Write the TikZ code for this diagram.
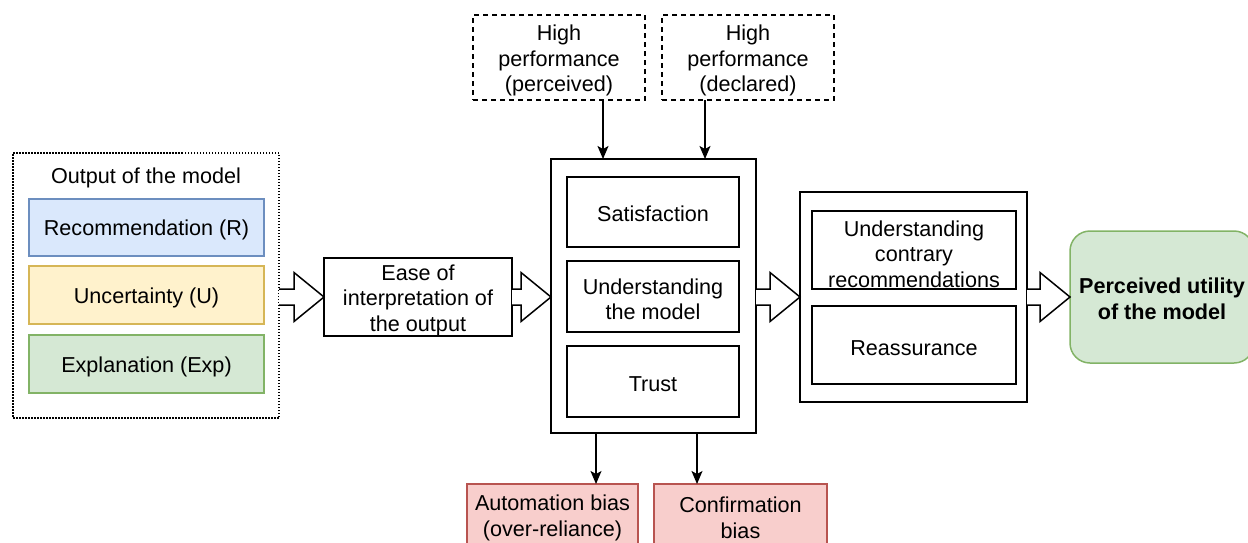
\documentclass[tikz,border=0pt]{standalone}
\usepackage{fontspec}
\setmainfont{Liberation Sans}
\usetikzlibrary{calc,arrows.meta}
\definecolor{bluefill}{HTML}{DAE8FC}
\definecolor{bluedraw}{HTML}{6C8EBF}
\definecolor{yelfill}{HTML}{FFF2CC}
\definecolor{yeldraw}{HTML}{D6B656}
\definecolor{grnfill}{HTML}{D5E8D4}
\definecolor{grndraw}{HTML}{82B366}
\definecolor{redfill}{HTML}{F8CECC}
\definecolor{reddraw}{HTML}{B85450}
\begin{document}
\begin{tikzpicture}[x=1pt,y=-1pt,
  font=\fontsize{21.6pt}{25.5pt}\selectfont,
  base/.style={line width=1.5pt, inner sep=0pt, outer sep=0pt, anchor=north west},
  box/.style={base, draw=black},
  txt/.style={inner sep=0pt, outer sep=0pt, align=center},
  sz/.style 2 args={minimum width=#1pt, minimum height=#2pt},
  dottedbox/.style={base, draw=black, dash pattern=on 1.5pt off 1.5pt},
  dashedbox/.style={base, draw=black, dash pattern=on 5pt off 4pt},
  bluebox/.style={base, draw=bluedraw, fill=bluefill},
  yelbox/.style={base, draw=yeldraw, fill=yelfill},
  grnbox/.style={base, draw=grndraw, fill=grnfill},
  redbox/.style={base, draw=reddraw, fill=redfill},
  thinarrow/.style={draw=black, line width=1.5pt, -{Stealth[length=13pt,width=11pt,inset=3pt]}},
  hollow/.style={draw=black, fill=white, line width=1.5pt, line join=miter,
    to path={let \p1=(\tikztostart), \p2=(\tikztotarget) in
      (\x1,\y2+8pt) -- (\x2-30pt,\y2+8pt) -- (\x2-30pt,\y2+24.5pt) -- (\x2,\y2)
      -- (\x2-30pt,\y2-24.5pt) -- (\x2-30pt,\y2-8pt) -- (\x1,\y2-8pt)}}
]
\path[use as bounding box] (0,0) rectangle (1248,542);
\clip (0,0) rectangle (1248,542);

% left group
\node[dottedbox, sz={266}{265}] (out) at (13,153) {};
\node[txt] (outlabel) at (146,178) {Output of the model};
\node[bluebox, sz={235}{57}] (rec) at (29,199) {};
\node[yelbox, sz={235}{58}] (unc) at (29,266) {};
\node[grnbox, sz={235}{58}] (exp) at (29,335) {};
\node[txt] (rect) at ([yshift=-2.5pt]rec.center) {Recommendation (R)};
\node[txt] (unct) at ([yshift=-2.5pt]unc.center) {Uncertainty (U)};
\node[txt] (expt) at ([yshift=-2.5pt]exp.center) {Explanation (Exp)};

% ease
\node[box, sz={188}{78}] (ease) at (324,258) {};
\node[txt] (easet) at ([yshift=-3pt]ease.center) {Ease of\\interpretation of\\the output};

% central group
\node[box, sz={205}{274}] (big) at (551,159) {};
\node[box, sz={172}{70}] (sat) at (567,177) {};
\node[box, sz={172}{71}] (und) at (567,261) {};
\node[box, sz={172}{71}] (trust) at (567,346) {};
\node[txt] (satt) at ([yshift=-2pt]sat.center) {Satisfaction};
\node[txt] (undt) at ([yshift=-3pt]und.center) {Understanding\\the model};
\node[txt] (trustt) at ([yshift=-3pt]trust.center) {Trust};

% top performance boxes
\node[dashedbox, sz={172}{85}] (hpp) at (473,15) {};
\node[dashedbox, sz={172}{85}] (hpd) at (662,15) {};
\node[txt] (hppt) at ([yshift=-3pt]hpp.center) {High\\performance\\(perceived)};
\node[txt] (hpdt) at ([yshift=-3pt]hpd.center) {High\\performance\\(declared)};

% bias boxes
\node[redbox, sz={171}{62}] (auto) at (467,484) {};
\node[redbox, sz={173}{62}] (conf) at (654,484) {};
\node[txt] (autot) at ([yshift=-3pt]auto.center) {Automation bias\\(over-reliance)};
\node[txt] (conft) at ([yshift=-3pt]conf.center) {Confirmation\\bias};

% right group
\node[box, sz={227}{210}] (right) at (800,192) {};
\node[box, sz={204}{78}] (ucr) at (812,211) {};
\node[box, sz={204}{78}] (rea) at (812,306) {};
\node[txt] (ucrt) at ([yshift=-4pt]ucr.center) {Understanding\\contrary\\recommendations};
\node[txt] (reat) at ([yshift=-3pt]rea.center) {Reassurance};

% perceived utility
\node[grnbox, sz={184}{132}, rounded corners=20pt] (perc) at (1070,231) {};
\node[txt, font=\fontsize{21.6pt}{25.5pt}\selectfont\bfseries] (perct) at ([yshift=-2pt]perc.center) {Perceived utility\\of the model};

% thin arrows
\draw[thinarrow] (hpp.south -| 603,0) -- (big.north -| 603,0);
\draw[thinarrow] (hpd.south -| 705,0) -- (big.north -| 705,0);
\draw[thinarrow] (big.south -| 596,0) -- (auto.north -| 596,0);
\draw[thinarrow] (big.south -| 697,0) -- (conf.north -| 697,0);

% hollow arrows
\path[hollow] (out.east |- ease.west) to (ease.west);
\path[hollow] (ease.east) to (big.west |- ease.east);
\path[hollow] (big.east |- right.west) to (right.west);
\path[hollow] (right.east |- perc.west) to (perc.west);
\end{tikzpicture}
\end{document}
